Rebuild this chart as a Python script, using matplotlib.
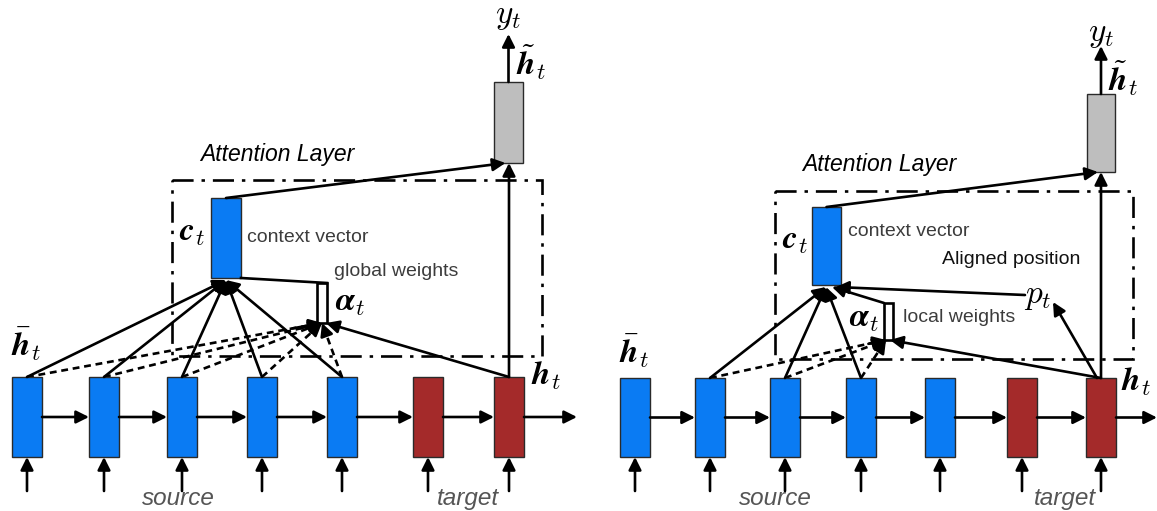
import matplotlib.pyplot as plt
from matplotlib.patches import Rectangle

plt.rcParams['mathtext.fontset'] = 'cm'

# hidden-state boxes (centre x, pixel coords), one list per panel
left_nodes_x = [27, 104, 182, 262, 342, 428, 509]
right_nodes_x = [635, 710, 785, 861, 940, 1022, 1101]
node_kind = ['src', 'src', 'src', 'src', 'src', 'tgt', 'tgt']
left_attend = [0, 1, 2, 3, 4]      # source states used by global attention
right_attend = [1, 2, 3]           # window used by local attention

blue = '#0a7bf3'
red = '#a42a2a'
grey = '#bebebe'
txt_grey = '#3c3c3c'
LW = 1.9

fig = plt.figure(figsize=(11.57, 5.11), dpi=100)
ax = fig.add_axes([0, 0, 1, 1])
ax.set_xlim(0, 1157)
ax.set_ylim(511, 0)
ax.axis('off')


def arrow(p0, p1, lw=LW, ms=19):
    ax.annotate('', xy=p1, xytext=p0,
                arrowprops=dict(arrowstyle='-|>', lw=lw, color='k',
                                mutation_scale=ms, shrinkA=0, shrinkB=0))


def dashed_arrow(p0, p1):
    ax.plot([p0[0], p1[0]], [p0[1], p1[1]], color='k', lw=LW,
            ls=(0, (2.6, 1.8)), solid_capstyle='butt')
    f = 0.9
    q = (p0[0] + (p1[0] - p0[0]) * f, p0[1] + (p1[1] - p0[1]) * f)
    arrow(q, p1)


def box(x0, y0, x1, y1, fc):
    ax.add_patch(Rectangle((x0, y0), x1 - x0, y1 - y0, fc=fc, ec='#2a2a2a',
                           lw=1.0, zorder=3))


def panel(xs, top, bot, ctx, gry, att, alpha, attend, ctx_in, alpha_in):
    w = 15
    for i, x in enumerate(xs):
        box(x - w, top, x + w, bot, blue if node_kind[i] == 'src' else red)
        arrow((x, 491), (x, bot))
    ymid = (top + bot) / 2
    for a, b in zip(xs[:-1], xs[1:]):
        arrow((a + w, ymid), (b - w, ymid))
    arrow((xs[-1] + w, ymid), (min(xs[-1] + 68, 1157), ymid))
    # attention layer frame
    ax.add_patch(Rectangle((att[0], att[1]), att[2] - att[0], att[3] - att[1],
                           fill=False, ec='k', lw=LW,
                           ls=(0, (8, 3, 1.3, 3)), zorder=1))
    box(ctx[0], ctx[1], ctx[2], ctx[3], blue)
    box(gry[0], gry[1], gry[2], gry[3], grey)
    ax.add_patch(Rectangle((alpha[0], alpha[1]), alpha[2] - alpha[0],
                           alpha[3] - alpha[1], fc='white', ec='k', lw=LW,
                           zorder=3))
    ht = xs[-1]
    gx = (gry[0] + gry[2]) / 2
    for i in attend:
        arrow((xs[i], top), ctx_in)
        dashed_arrow((xs[i], top), alpha_in)
    arrow((ht, top), (alpha_in[0] + 4, alpha_in[1]))
    arrow((ht, top), (ht, gry[3]))
    arrow(((ctx[0] + ctx[2]) / 2, ctx[1]), (gx - 3, gry[3]))
    arrow((gx, gry[1]), (gx, gry[1] - 48))


panel(left_nodes_x, 377, 457, (211, 198, 241, 278), (494, 82, 523, 163),
      (172, 180, 542, 356), (317, 283, 327, 323), left_attend,
      (226, 280), (322, 323))
ax.plot([241, 327], [278, 283], color='k', lw=LW, zorder=4)

panel(right_nodes_x, 378, 457, (812, 207, 841, 285), (1087, 94, 1115, 172),
      (775, 191, 1133, 359), (884, 303, 893, 340), right_attend,
      (826, 287), (886, 340))
arrow((884, 303), (832, 287))
arrow((1025, 295), (836, 287))
arrow((1097, 378), (1053, 302))

# labels, left panel
math = dict(fontsize=24, ha='center', va='center')
ax.text(508, 16, r'$y_t$', **math)
ax.text(531, 62, r'$\tilde{\boldsymbol{h}}_t$', **math)
ax.text(192, 232, r'$\boldsymbol{c}_t$', **math)
ax.text(350, 302, r'$\boldsymbol{\alpha}_t$', **math)
ax.text(26, 344, r'$\bar{\boldsymbol{h}}_t$', **math)
ax.text(546, 375, r'$\boldsymbol{h}_t$', **math)
ax.text(200, 155, 'Attention Layer', fontsize=16.5, style='italic',
        family='Liberation Sans', va='center')
ax.text(247, 238, 'context vector', fontsize=14, color=txt_grey,
        family='Liberation Sans', va='center')
ax.text(334, 271, 'global weights', fontsize=14, color=txt_grey,
        family='Liberation Sans', va='center')
ax.text(178, 505, 'source', fontsize=17.5, style='italic', color='#555555',
        family='Liberation Sans', ha='center', va='baseline')
ax.text(468, 505, 'target', fontsize=17.5, style='italic', color='#555555',
        family='Liberation Sans', ha='center', va='baseline')

# labels, right panel
ax.text(1101, 33, r'$y_t$', **math)
ax.text(1123, 78, r'$\tilde{\boldsymbol{h}}_t$', **math)
ax.text(795, 240, r'$\boldsymbol{c}_t$', **math)
ax.text(864, 318, r'$\boldsymbol{\alpha}_t$', **math)
ax.text(1038, 296, r'$p_t$', **math)
ax.text(634, 351, r'$\bar{\boldsymbol{h}}_t$', **math)
ax.text(1136, 382, r'$\boldsymbol{h}_t$', **math)
ax.text(802, 165, 'Attention Layer', fontsize=16.5, style='italic',
        family='Liberation Sans', va='center')
ax.text(848, 231, 'context vector', fontsize=14, color=txt_grey,
        family='Liberation Sans', va='center')
ax.text(942, 260, 'Aligned position', fontsize=14, color='#111111',
        family='Liberation Sans', va='center')
ax.text(903, 318, 'local weights', fontsize=14, color=txt_grey,
        family='Liberation Sans', va='center')
ax.text(775, 505, 'source', fontsize=17.5, style='italic', color='#555555',
        family='Liberation Sans', ha='center', va='baseline')
ax.text(1065, 505, 'target', fontsize=17.5, style='italic', color='#555555',
        family='Liberation Sans', ha='center', va='baseline')

fig.savefig('out.png', dpi=100)
